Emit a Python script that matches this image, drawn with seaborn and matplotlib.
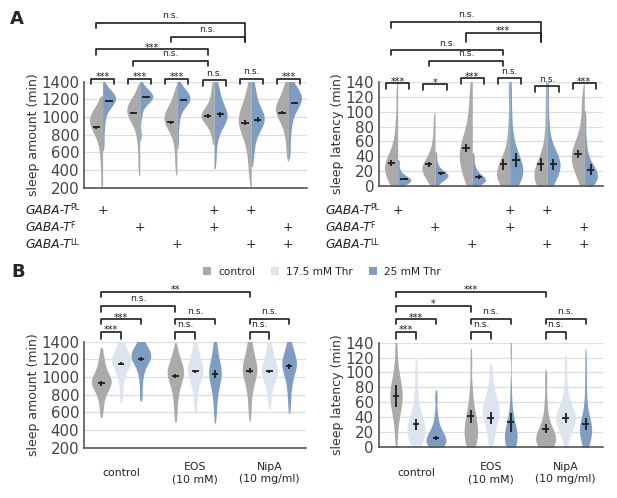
import matplotlib
matplotlib.use("Agg")
import matplotlib.pyplot as plt
import matplotlib.transforms as mtransforms
from matplotlib.patches import Patch
import numpy as np
import pandas as pd
import seaborn as sns

W, H = 617, 498
GRAY = "#aaaaaa"
LIGHT = "#dce5ef"
BLUE = "#7f9dc2"
INK = "#1e1e1e"

# ---------------- panel A data ----------------
genotypes = ["PL", "F", "LL", "PL/F", "PL/LL", "F/LL"]
treat_A = ["control", "25 mM Thr"]
allele_names = ["PL", "F", "LL"]
plus_PL = [1, 0, 0, 1, 1, 0]
plus_F = [0, 1, 0, 1, 0, 1]
plus_LL = [0, 0, 1, 0, 1, 1]

# sleep amount (min), one list per genotype
amount_A_ctrl = [
    [260, 480, 640, 750, 820, 870, 900, 930, 950, 970, 990, 1010, 1040, 1080, 1130],
    [440, 650, 800, 900, 960, 1000, 1030, 1050, 1070, 1090, 1110, 1130, 1160, 1200, 1280],
    [440, 620, 760, 840, 890, 930, 950, 970, 990, 1010, 1040, 1070, 1110, 1170, 1260],
    [760, 860, 920, 950, 980, 1000, 1010, 1025, 1040, 1060, 1090, 1130, 1190, 1270, 1370],
    [340, 520, 660, 760, 830, 880, 920, 950, 980, 1010, 1050, 1100, 1170, 1260, 1370],
    [600, 760, 870, 940, 990, 1030, 1060, 1080, 1100, 1120, 1150, 1190, 1240, 1310, 1390],
]
amount_A_thr = [
    [700, 880, 1000, 1080, 1130, 1160, 1180, 1195, 1205, 1215, 1225, 1240, 1260, 1290, 1330],
    [800, 1000, 1100, 1160, 1190, 1205, 1215, 1222, 1230, 1240, 1250, 1265, 1285, 1320, 1360],
    [720, 900, 1020, 1100, 1140, 1170, 1190, 1200, 1210, 1220, 1235, 1255, 1280, 1320, 1360],
    [520, 720, 840, 910, 950, 980, 1000, 1020, 1040, 1070, 1110, 1160, 1230, 1310, 1390],
    [540, 700, 800, 870, 910, 940, 965, 985, 1005, 1030, 1070, 1120, 1190, 1280, 1380],
    [620, 820, 950, 1040, 1100, 1140, 1170, 1190, 1205, 1220, 1240, 1265, 1300, 1340, 1390],
]
amount_A_mean = [[885, 1045, 940, 1011, 935, 1050], [1185, 1222, 1198, 1030, 970, 1158]]
amount_A_err = [[15, 12, 15, 18, 30, 15], [8, 8, 10, 25, 28, 15]]

# sleep latency (min)
latency_A_ctrl = [
    [1, 6, 12, 16, 20, 23, 26, 29, 32, 36, 42, 52, 68, 90, 125],
    [2, 8, 13, 17, 20, 22, 24, 26, 29, 32, 36, 42, 52, 66, 88],
    [2, 10, 18, 25, 31, 37, 42, 47, 52, 58, 65, 75, 90, 110, 135],
    [0, 4, 8, 11, 14, 16, 18, 21, 24, 28, 33, 42, 58, 85, 130],
    [0, 2, 5, 8, 11, 14, 17, 20, 24, 29, 36, 47, 65, 95, 130],
    [2, 12, 20, 26, 31, 35, 39, 43, 47, 52, 58, 66, 80, 100, 122],
]
latency_A_thr = [
    [0, 2, 4, 5, 6, 7, 8, 9, 10, 11, 12, 14, 17, 22, 32],
    [2, 6, 9, 11, 12, 13, 14, 15, 16, 17, 19, 21, 25, 31, 42],
    [0, 2, 4, 6, 7, 8, 9, 10, 11, 13, 15, 18, 22, 29, 40],
    [1, 6, 10, 14, 17, 20, 23, 27, 31, 36, 43, 54, 72, 100, 135],
    [1, 8, 14, 19, 23, 26, 29, 32, 35, 38, 42, 50, 64, 90, 128],
    [0, 3, 6, 9, 11, 13, 15, 17, 20, 23, 27, 33, 44, 62, 90],
]
latency_A_mean = [[31, 29, 51, 29, 29, 43], [9, 17, 12, 35, 29, 22]]
latency_A_err = [[4, 3, 5, 7, 9, 5], [1, 2, 3, 10, 7, 7]]

# within-genotype and between-genotype comparisons
within_A_amount = ["***", "***", "***", "n.s.", "n.s.", "***"]
within_A_latency = ["***", "*", "***", "n.s.", "n.s.", "***"]
between_A_pairs = [(0, 4), (2, 4), (0, 3), (1, 3)]
between_A_amount = ["n.s.", "n.s.", "***", "n.s."]
between_A_latency = ["n.s.", "***", "n.s.", "n.s."]

# ---------------- panel B data ----------------
drugs = ["control", "EOS\n(10 mM)", "NipA\n(10 mg/ml)"]
treat_B = ["control", "17.5 mM Thr", "25 mM Thr"]

amount_B = [  # [treatment][drug]
    [[620, 740, 810, 860, 890, 915, 935, 950, 965, 985, 1010, 1050, 1100, 1170, 1260],
     [580, 720, 820, 890, 940, 980, 1010, 1035, 1055, 1075, 1100, 1130, 1170, 1230, 1300],
     [600, 750, 860, 930, 980, 1020, 1050, 1080, 1100, 1125, 1155, 1195, 1250, 1320, 1395]],
    [[780, 920, 1010, 1070, 1110, 1140, 1160, 1175, 1190, 1205, 1225, 1250, 1290, 1340, 1390],
     [680, 810, 900, 960, 1000, 1035, 1060, 1080, 1100, 1120, 1150, 1190, 1240, 1310, 1390],
     [720, 830, 910, 960, 1000, 1030, 1050, 1070, 1090, 1115, 1145, 1185, 1240, 1310, 1390]],
    [[800, 960, 1060, 1120, 1160, 1190, 1210, 1225, 1240, 1255, 1270, 1290, 1320, 1360, 1395],
     [580, 720, 820, 890, 940, 980, 1010, 1040, 1065, 1090, 1120, 1160, 1220, 1300, 1390],
     [680, 820, 920, 990, 1040, 1080, 1110, 1135, 1155, 1175, 1200, 1230, 1270, 1330, 1395]],
]
amount_B_mean = [[928, 1011, 1072], [1151, 1064, 1064], [1204, 1034, 1121]]
amount_B_err = [[30, 18, 25], [20, 18, 20], [20, 40, 25]]

latency_B = [
    [[8, 30, 42, 50, 56, 61, 65, 69, 73, 77, 82, 88, 96, 110, 135],
     [0, 3, 6, 10, 14, 18, 22, 26, 30, 34, 38, 44, 52, 64, 82, 118],
     [0, 2, 4, 6, 8, 10, 12, 14, 17, 20, 25, 32, 43, 62, 92]],
    [[0, 5, 10, 14, 18, 21, 24, 27, 30, 34, 39, 46, 57, 75, 105],
     [2, 12, 22, 30, 36, 41, 45, 48, 51, 54, 58, 63, 70, 82, 100],
     [5, 15, 22, 27, 31, 34, 37, 39, 41, 43, 46, 50, 56, 66, 82, 112]],
    [[0, 2, 3, 5, 6, 8, 10, 12, 14, 17, 20, 25, 32, 45, 68],
     [0, 2, 4, 6, 8, 10, 12, 14, 16, 18, 21, 24, 28, 34, 42, 55, 80, 130],
     [0, 5, 10, 14, 17, 20, 22, 24, 26, 28, 31, 35, 41, 50, 66, 90, 118]],
]
latency_B_mean = [[68, 41, 24], [30, 39, 39], [12, 33, 31]]
latency_B_err = [[15, 9, 6], [7, 8, 7], [3, 13, 8]]

# (drug i, treatment a) vs (drug j, treatment b)
comp_B_pairs = [((0, 0), (0, 1)), ((0, 0), (0, 2)), ((0, 0), (1, 0)), ((0, 0), (2, 0)),
                ((1, 0), (1, 1)), ((1, 0), (1, 2)), ((2, 0), (2, 1)), ((2, 0), (2, 2))]
comp_B_amount = ["***", "***", "n.s.", "**", "n.s.", "n.s.", "n.s.", "n.s."]
comp_B_latency = ["***", "***", "*", "***", "n.s.", "n.s.", "n.s.", "n.s."]


def to_long(groups, conds, samples):
    rows = []
    for ci, cond in enumerate(conds):
        for gi, grp in enumerate(groups):
            for v in samples[ci][gi]:
                rows.append((grp, cond, v))
    return pd.DataFrame(rows, columns=["group", "cond", "value"])


sns.set_style("white")
plt.rcParams["font.family"] = ["DejaVu Sans"]

fig = plt.figure(figsize=(W / 100, H / 100), dpi=100)


def fy(px):
    return 1 - px / H


def make_ax(l, t, r, b):
    return fig.add_axes([l / W, 1 - b / H, (r - l) / W, (b - t) / H])


def style(ax, ylim, yticks, ylabel, ngroups):
    ax.set_xlim(-0.5, ngroups - 0.5)
    ax.set_ylim(*ylim)
    ax.set_yticks(yticks)
    ax.set_xticks(range(ngroups))
    ax.set_xlabel("")
    ax.set_ylabel(ylabel, fontsize=9, color="#333333", labelpad=1)
    ax.grid(axis="y", color="#dedede", lw=0.9)
    ax.set_axisbelow(True)
    for s in ["top", "right"]:
        ax.spines[s].set_visible(False)
    for s in ["left", "bottom"]:
        ax.spines[s].set_color("#555555")
        ax.spines[s].set_linewidth(1.2)
    ax.tick_params(axis="y", labelsize=10.8, labelcolor="#444444", color="#555555",
                   length=2.5, width=1, pad=1)
    ax.tick_params(axis="x", length=3, width=1, color="#555555", labelbottom=False)


def bracket(ax, x1, x2, y_line, y_left, y_right, label):
    tr = mtransforms.blended_transform_factory(ax.transData, fig.transFigure)
    ax.plot([x1, x1, x2, x2], [fy(y_left), fy(y_line), fy(y_line), fy(y_right)],
            color=INK, lw=1.2, transform=tr, clip_on=False, zorder=6)
    if "*" in label:
        ax.text((x1 + x2) / 2, fy(y_line + 1.5), label, transform=tr, ha="center",
                va="baseline", fontsize=7, color=INK)
    else:
        ax.text((x1 + x2) / 2, fy(y_line - 4.5), label, transform=tr, ha="center",
                va="baseline", fontsize=6.6, color=INK)


def panel_A(ax, ctrl, thr, means, errs, ylim, yticks, ylabel):
    df = to_long(genotypes, treat_A, [ctrl, thr])
    sns.violinplot(data=df, x="group", y="value", hue="cond", order=genotypes,
                   hue_order=treat_A, split=True, inner=None, cut=1, width=0.7,
                   density_norm="width", bw_adjust=0.8, palette=[GRAY, BLUE],
                   saturation=1, linewidth=0, legend=False, ax=ax)
    xs = np.arange(len(genotypes))
    for ci, off in enumerate([-0.17, 0.17]):
        ax.errorbar(xs + off, means[ci], yerr=errs[ci], xerr=0.1, fmt="none",
                    ecolor=INK, elinewidth=1.3, capsize=0, zorder=5)
    style(ax, ylim, yticks, ylabel, len(genotypes))


def panel_B(ax, samples, means, errs, ylim, yticks, ylabel):
    df = to_long(drugs, treat_B, samples)
    sns.violinplot(data=df, x="group", y="value", hue="cond", order=drugs,
                   hue_order=treat_B, dodge=True, inner=None, cut=1,
                   density_norm="area", bw_adjust=0.8,
                   palette=[GRAY, LIGHT, BLUE], saturation=1, linewidth=0,
                   legend=False, ax=ax)
    xs = np.arange(len(drugs))
    for ci, off in enumerate([-0.2667, 0, 0.2667]):
        ax.errorbar(xs + off, means[ci], yerr=errs[ci], xerr=0.045, fmt="none",
                    ecolor=INK, elinewidth=1.3, capsize=0, zorder=5)
    style(ax, ylim, yticks, ylabel, len(drugs))
    tr = mtransforms.blended_transform_factory(ax.transData, fig.transFigure)
    for gi, lab in enumerate(drugs):
        ax.text(gi, fy(473), lab, transform=tr, ha="center", va="center",
                fontsize=7.8, linespacing=1.35, color="#222222")


# ---------- panel A ----------
axA1 = make_ax(84, 81.7, 307, 187.7)
axA2 = make_ax(379, 82, 603, 186)
panel_A(axA1, amount_A_ctrl, amount_A_thr, amount_A_mean, amount_A_err,
        (200, 1400), range(200, 1401, 200), "sleep amount (min)")
panel_A(axA2, latency_A_ctrl, latency_A_thr, latency_A_mean, latency_A_err,
        (0, 140), range(0, 141, 20), "sleep latency (min)")

within_y = {axA1: [78.7, 78.7, 78.7, 80.3, 78.7, 78.7],
            axA2: [83.3, 84.3, 78.3, 78.3, 86.0, 83.3]}
between_y = {axA1: [(22.7, 28.3, 41.7), (36.7, 41.7, 41.7), (49, 55, 55), (61, 65.7, 65.7)],
             axA2: [(21.7, 28.3, 41.7), (32.7, 41.7, 41.7), (50, 55, 55), (61, 65.7, 65.7)]}
for ax, w_lab, b_lab in [(axA1, within_A_amount, between_A_amount),
                         (axA2, within_A_latency, between_A_latency)]:
    for gi, lab in enumerate(w_lab):
        yl = within_y[ax][gi]
        bracket(ax, gi - 0.31, gi + 0.31, yl, yl + 5.8, yl + 5.8, lab)
    for (i, j), lab, (yl, y1, y2) in zip(between_A_pairs, b_lab, between_y[ax]):
        bracket(ax, i - 0.17, j - 0.17, yl, y1, y2, lab)

# genotype table
row_y = [210, 227.3, 244.3]
for ax, lx in [(axA1, 25), (axA2, 325)]:
    tr = mtransforms.blended_transform_factory(ax.transData, fig.transFigure)
    for name, flags, yy in zip(allele_names, [plus_PL, plus_F, plus_LL], row_y):
        t = fig.text(lx / W, fy(yy + 3.5), "GABA-T", fontsize=8.8, style="italic",
                     va="baseline", ha="left", color="#222222")
        ax.annotate(name, xy=(1, 1), xycoords=t, xytext=(-0.2, 0.1),
                    textcoords="offset points", ha="left", va="top",
                    fontsize=5.8, color="#222222", annotation_clip=False)
        for gi, f in enumerate(flags):
            if f:
                ax.text(gi, fy(yy), "+", transform=tr, ha="center", va="center",
                        fontsize=9, color="#222222")

# ---------- panel B ----------
axB1 = make_ax(84, 341.7, 306.4, 447.7)
axB2 = make_ax(378.6, 342.7, 603, 446.7)
panel_B(axB1, amount_B, amount_B_mean, amount_B_err,
        (200, 1400), range(200, 1401, 200), "sleep amount (min)")
panel_B(axB2, latency_B, latency_B_mean, latency_B_err,
        (0, 140), range(0, 141, 20), "sleep latency (min)")

dodge = [-0.2667, 0, 0.2667]
comp_B_y = [(331.7, 339, 339), (319, 324, 324), (305.5, 311.7, 311.7), (291.7, 296.7, 296.7),
            (331.7, 339, 339), (319, 324, 324), (331.7, 339, 339), (319, 324, 324)]
for ax, labs in [(axB1, comp_B_amount), (axB2, comp_B_latency)]:
    for ((g1, t1), (g2, t2)), lab, (yl, y1, y2) in zip(comp_B_pairs, labs, comp_B_y):
        bracket(ax, g1 + dodge[t1], g2 + dodge[t2], yl, y1, y2, lab)

handles = [Patch(facecolor=c, edgecolor="none") for c in [GRAY, LIGHT, BLUE]]
fig.legend(handles, treat_B, loc="center", bbox_to_anchor=(0.522, fy(272)), ncol=3,
           frameon=False, fontsize=7.6, handlelength=0.75, handleheight=0.75,
           handletextpad=0.7, columnspacing=1.5)

fig.text(10 / W, fy(19), "A", fontsize=13, fontweight="bold", va="center")
fig.text(11 / W, fy(272), "B", fontsize=13, fontweight="bold", va="center")

for ax in [axA1, axA2, axB1, axB2]:
    ax.set_xlim(-0.5, len(ax.get_xticks()) - 0.5)

fig.savefig("out.png", dpi=100)
